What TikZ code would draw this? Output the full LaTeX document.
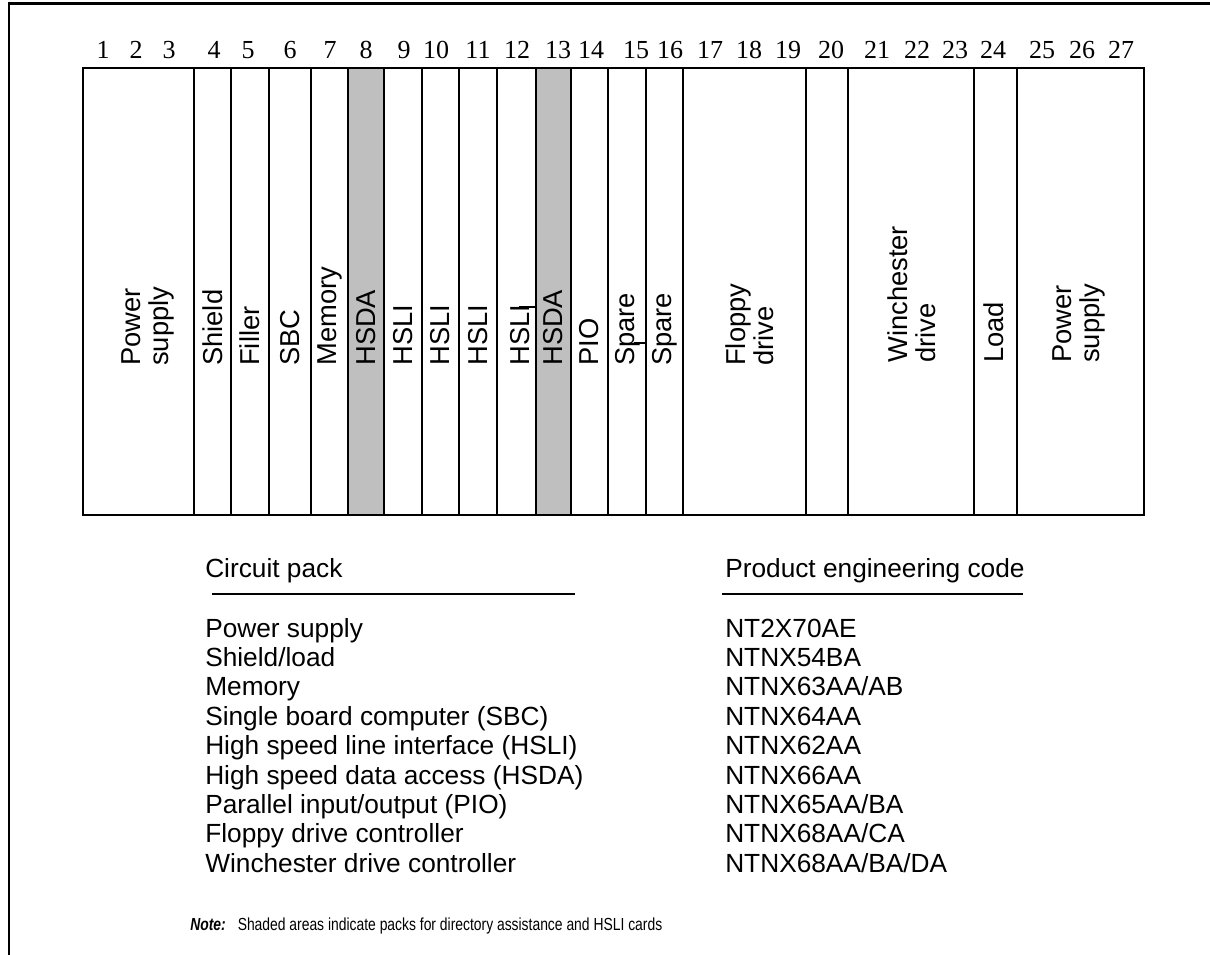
\documentclass[tikz,border=0pt]{standalone}
\usepackage{fontspec}
\setmainfont{Liberation Sans}
\newfontfamily\numfont{Liberation Serif}
\newfontfamily\narrowfont[FakeStretch=0.795]{Liberation Sans}
\begin{document}
\begin{tikzpicture}[x=0.75pt,y=-0.75pt,
  frameline/.style={line width=2.2pt},
  slotline/.style={line width=2pt},
  shaded/.style={fill=black!25},
  slotlabel/.style={rotate=90,anchor=west,inner sep=0pt,align=left,font=\fontsize{20.5}{21}\selectfont},
  slotnum/.style={anchor=base,inner sep=0pt,font=\numfont\fontsize{19.5}{20}\selectfont},
  legendtext/.style={anchor=base west,inner sep=0pt,font=\fontsize{19.7}{22}\selectfont},
  ruleline/.style={line width=1.2pt},
  artline/.style={line width=1pt}]
\useasboundingbox (0,0) rectangle (1210,955);
% outer frame (top and left only)
\draw[frameline] (9,955) -- (9,3.5) -- (1210,3.5);
% shaded slots
\fill[shaded] (348,68) rectangle (384,515);
\fill[shaded] (536,68) rectangle (571,515);
% rack outline and dividers
\draw[slotline] (83,68) rectangle (1144,515);
\foreach \x in {194,231,269,311,348,384,422,459,497,536,571,608,646,683,806,848,974,1017}
  \draw[slotline] (\x,68) -- (\x,515);
% small stray strokes
\draw[artline] (519,307) -- (536,307);
\draw[artline] (634,343) -- (646,343);
% slot numbers
\foreach \n/\x in {1/103,2/136,3/169,4/214,5/248,6/290,7/330,8/366,9/404,10/436,11/478,12/517,13/558,14/591,15/636,16/670,17/710,18/749,19/788,20/831,21/877,22/917,23/955,24/993,25/1042,26/1082,27/1121}
  \node[slotnum] (n\n) at (\x,59) {\n};
% slot labels
\node[slotlabel] (ps1) at (148,366) {Power\\supply};
\node[slotlabel] (shield) at (212.5,366) {Shield};
\node[slotlabel] (filler) at (250,366) {Filler};
\node[slotlabel] (sbc) at (290,366) {SBC};
\node[slotlabel] (mem) at (329.5,366) {Memory};
\node[slotlabel] (hsda1) at (366,366) {HSDA};
\node[slotlabel] (hsli1) at (403,366) {HSLI};
\node[slotlabel] (hsli2) at (440.5,366) {HSLI};
\node[slotlabel] (hsli3) at (478,366) {HSLI};
\node[slotlabel] (hsli4) at (520,366) {HSLI};
\node[slotlabel] (hsda2) at (553.5,366) {HSDA};
\node[slotlabel] (pio) at (589.5,366) {PIO};
\node[slotlabel] (spare1) at (628,366) {Spare};
\node[slotlabel] (spare2) at (664.5,366) {Spare};
\node[slotlabel] (floppy) at (750,366) {Floppy\\drive};
\node[slotlabel] (winch) at (912,363) {Winchester\\drive};
\node[slotlabel] (load) at (994,363) {Load};
\node[slotlabel] (ps2) at (1079,363) {Power\\supply};
% legend headings
\node[legendtext] (hcp) at (205,577) {Circuit pack};
\node[legendtext] (hpec) at (725,577) {Product engineering code};
\draw[ruleline] (212,594) -- (575,594);
\draw[ruleline] (722,594) -- (1023,594);
% legend rows
\foreach \i/\a/\b in {0/Power supply/NT2X70AE,
  1/Shield\slash load/NTNX54BA,
  2/Memory/NTNX63AA\slash AB,
  3/Single board computer (SBC)/NTNX64AA,
  4/High speed line interface (HSLI)/NTNX62AA,
  5/High speed data access (HSDA)/NTNX66AA,
  6/Parallel input\slash output (PIO)/NTNX65AA\slash BA,
  7/Floppy drive controller/NTNX68AA\slash CA,
  8/Winchester drive controller/NTNX68AA\slash BA\slash DA}{
  \node[legendtext] (cp\i) at (205,637+\i*29.4) {\a};
  \node[legendtext] (pec\i) at (725,637+\i*29.4) {\b};
}
% note
\node[anchor=base west,inner sep=0pt,font=\narrowfont\fontsize{13.1}{14}\selectfont] (note) at (190,930)
  {\textbf{\textit{Note:}}\hspace{9pt}Shaded areas indicate packs for directory assistance and HSLI cards};
\end{tikzpicture}
\end{document}
